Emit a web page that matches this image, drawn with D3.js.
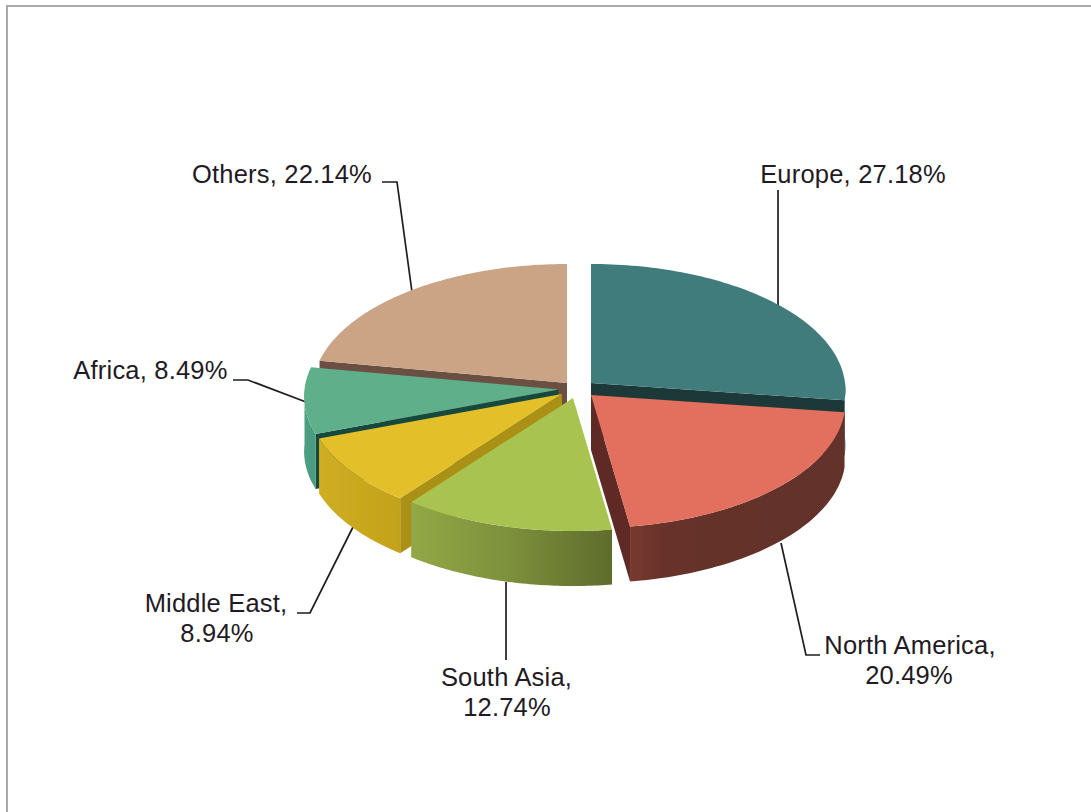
<!DOCTYPE html>
<html>
<head>
<meta charset="utf-8">
<script src="https://cdn.jsdelivr.net/npm/d3@7"></script>
<style>
html,body{margin:0;padding:0;background:#fff;overflow:hidden}
svg{display:block}
text{font-family:"Liberation Sans",Arial,sans-serif;font-size:25.5px;letter-spacing:0.2px;fill:#1f1a24}
</style>
</head>
<body>
<script>
// Data
const categories = ["Europe", "North America", "South Asia", "Middle East", "Africa", "Others"];
const shares = [27.18, 20.49, 12.74, 8.94, 8.49, 22.14];

// Exploded slice apexes on the page
const apexX = [591, 591, 573, 562, 558.5, 567];
const apexY = [383, 395, 398, 394, 389.5, 383];

// Colours
const topColors  = ["#417b7c", "#e36f5e", "#a9c351", "#e3c029", "#5eb08a", "#cba485"];
const cutColors  = ["#1a3837", "#5f2a25", "#6c7a30", "#ab9015", "#184a3d", "#6b4f42"];
const wallLeft   = ["#35595a", "#78392f", "#92a846", "#d0ae23", "#4fa083", "#8a6e58"];
const wallMid    = ["#35595a", "#66312a", "#7c8f3b", "#c9a81f", "#4b9c7e", "#8a6e58"];
const wallRight  = ["#35595a", "#63302a", "#5f6c2c", "#c4a31e", "#4b9c7e", "#8a6e58"];
const wallMidStop = [0.5, 0.18, 0.5, 0.5, 0.5, 0.5];

// Back-to-front painting order
const paintOrder = [5, 0, 4, 3, 1, 2];

// Label layout: text lines, anchor centre and leader polylines
const labelLines = [
  [{ t: d => `${d.c}, ${d.v.toFixed(2)}%`, x: 853, y: 183 }],
  [{ t: d => `${d.c},`, x: 910, y: 654 }, { t: d => `${d.v.toFixed(2)}%`, x: 909, y: 684 }],
  [{ t: d => `${d.c},`, x: 506.5, y: 686 }, { t: d => `${d.v.toFixed(2)}%`, x: 507, y: 716 }],
  [{ t: d => `${d.c},`, x: 216, y: 612 }, { t: d => `${d.v.toFixed(2)}%`, x: 217, y: 642 }],
  [{ t: d => `${d.c}, ${d.v.toFixed(2)}%`, x: 150.5, y: 379 }],
  [{ t: d => `${d.c}, ${d.v.toFixed(2)}%`, x: 282, y: 183 }]
];
const leaders = [
  [[778, 190], [778, 305]],
  [[820, 655], [806, 655], [781, 543]],
  [[506, 582], [506, 660]],
  [[297, 613], [310, 613], [353, 527]],
  [[233, 380], [248, 380], [306, 402]],
  [[382, 182], [397, 182], [412, 292]]
];

const W = 1091, H = 812;
const depth = 55;
const persp = 0.0556;              // perspective strength toward the viewer
const sx = d3.scaleLinear().domain([-1, 1]).range([-254, 254]);
const sy = d3.scaleLinear().domain([-1, 1]).range([-125.6, 125.6]);

// Project polar angle (clockwise from 12 o'clock) on the unit disc
function project(theta, r = 1) {
  const u = r * Math.sin(theta), v = -r * Math.cos(theta);
  const w = 1 - persp * v;
  return [sx(u) / w, sy(v) / w];
}

const svg = d3.select("body").append("svg").attr("width", W).attr("height", H);
const defs = svg.append("defs");
defs.append("filter").attr("id", "soft")
  .attr("x", "-5%").attr("y", "-5%").attr("width", "110%").attr("height", "110%")
  .append("feGaussianBlur").attr("stdDeviation", 0.55);

// Frame
svg.append("path").attr("d", `M7,${H}V6H${W}`).attr("fill", "none")
  .attr("stroke", "#a9a9a9").attr("stroke-width", 2);

const pie = d3.pie().sort(null).startAngle(0).endAngle(2 * Math.PI)(shares);
const line = d3.line();
const closed = d3.line().curve(d3.curveLinearClosed);

// Leaders under the pie
svg.append("g").selectAll("path").data(leaders).join("path")
  .attr("d", d => line(d)).attr("fill", "none")
  .attr("stroke", "#1e1e1e").attr("stroke-width", 1.7);

const pieG = svg.append("g").attr("filter", "url(#soft)");

paintOrder.forEach(i => {
  const a = pie[i];
  const cx = apexX[i], cy = apexY[i];
  const at = (theta, dy = 0) => { const p = project(theta); return [cx + p[0], cy + p[1] + dy]; };
  const g = pieG.append("g").attr("class", "slice");

  // Cut face that looks toward the viewer
  const cutTheta = a.endAngle < Math.PI ? a.endAngle : a.startAngle;
  if (i !== 2) {
    const o = at(cutTheta);
    g.append("path").attr("d", closed([[cx, cy], o, [o[0], o[1] + depth], [cx, cy + depth]]))
      .attr("fill", cutColors[i]);
  }

  // Outer wall on the front half only
  const s = Math.max(a.startAngle, Math.PI / 2), e = Math.min(a.endAngle, 3 * Math.PI / 2);
  if (e > s) {
    const ts = d3.range(0, 61).map(k => s + (e - s) * k / 60);
    const topEdge = ts.map(t => at(t));
    const botEdge = ts.map(t => at(t, depth)).reverse();
    const xs = d3.extent(topEdge, p => p[0]);
    const id = "wall" + i;
    const gr = defs.append("linearGradient").attr("id", id)
      .attr("gradientUnits", "userSpaceOnUse")
      .attr("x1", xs[0]).attr("x2", xs[1]).attr("y1", 0).attr("y2", 0);
    gr.append("stop").attr("offset", 0).attr("stop-color", wallLeft[i]);
    gr.append("stop").attr("offset", wallMidStop[i]).attr("stop-color", wallMid[i]);
    gr.append("stop").attr("offset", 1).attr("stop-color", wallRight[i]);
    g.append("path").attr("d", closed(topEdge.concat(botEdge))).attr("fill", `url(#${id})`);
  }

  // Top face
  const n = 80;
  const arcPts = d3.range(0, n + 1).map(k => at(a.startAngle + (a.endAngle - a.startAngle) * k / n));
  g.append("path").attr("d", closed([[cx, cy]].concat(arcPts))).attr("fill", topColors[i]);
});

// Labels
const labels = svg.append("g");
categories.forEach((c, i) => {
  labelLines[i].forEach(l => {
    labels.append("text").attr("x", l.x).attr("y", l.y).attr("text-anchor", "middle")
      .text(l.t({ c, v: shares[i] }));
  });
});
</script>
</body>
</html>
